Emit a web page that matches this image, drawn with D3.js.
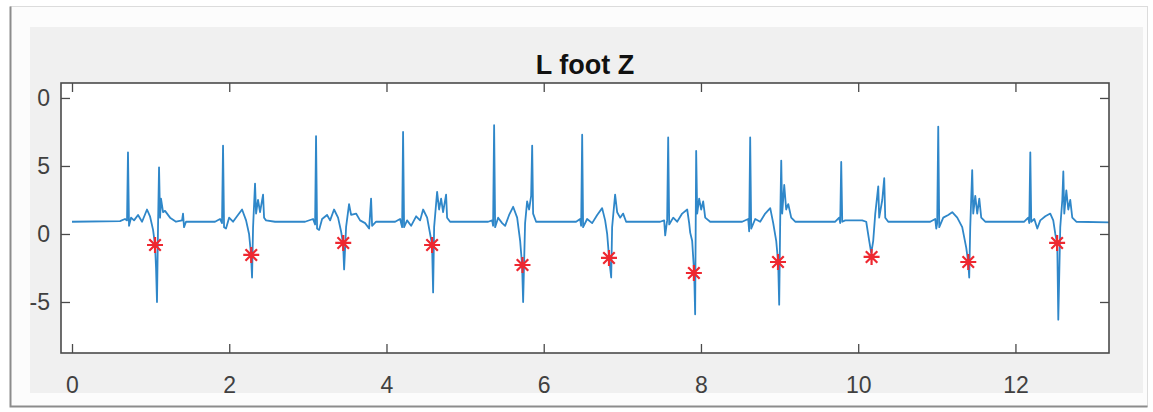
<!DOCTYPE html>
<html>
<head>
<meta charset="utf-8">
<script src="https://cdn.jsdelivr.net/npm/d3@7"></script>
<style>
  body { margin: 0; background: #fff; }
  svg { display: block; font-family: "Liberation Sans", Arial, sans-serif; }
</style>
</head>
<body>
<svg width="1153" height="412"></svg>
<script>
var titleText = 'L foot Z';
var xTicks = [0, 2, 4, 6, 8, 10, 12];
var xTickLabels = ['0', '2', '4', '6', '8', '10', '12'];
var yTicks = [-5, 0, 5, 10];
// the "1" of the top label is cut off in the source picture
var yTickLabels = ['-5', '0', '5', '0'];

// [time (s), Z]
var signal = [
    [0, 0.9], [0.611, 0.95], [0.674, 1.1], [0.700, 1.0], [0.712, 6.0], [0.725, 0.6], [0.751, 1.2],
    [0.789, 1.0], [0.840, 1.4], [0.891, 0.9], [0.954, 1.8], [0.992, 1.3], [1.031, 0.3], [1.056, -0.8],
    [1.069, -2.5], [1.081, -5.0], [1.094, 0.5], [1.107, 4.9], [1.120, 1.2], [1.132, 2.6], [1.158, 1.6],
    [1.183, 1.7], [1.247, 1.2], [1.323, 0.9], [1.400, 1.0], [1.412, 1.5], [1.425, 0.5], [1.450, 0.9],
    [1.629, 0.9],
    [1.819, 0.9], [1.883, 1.1], [1.908, 0.8], [1.921, 6.5], [1.934, 0.5], [1.959, 0.4], [1.998, 1.2],
    [2.048, 0.9], [2.099, 1.3], [2.163, 1.8], [2.214, 1.0], [2.252, 0.0], [2.277, -1.5], [2.290, -3.2],
    [2.303, 0.5], [2.328, 3.7], [2.341, 1.5], [2.366, 2.5], [2.392, 1.6], [2.430, 2.9], [2.443, 1.2],
    [2.468, 1.0], [2.583, 0.9],
    [2.964, 0.9], [3.066, 1.1], [3.092, 0.7], [3.104, 7.2], [3.117, 0.4], [3.143, 0.3], [3.181, 1.1],
    [3.244, 1.4], [3.283, 1.0], [3.333, 1.8], [3.384, 1.2], [3.422, 0.2], [3.448, -0.7], [3.461, -2.6],
    [3.486, 0.5], [3.524, 2.2], [3.550, 1.4], [3.613, 1.5], [3.664, 1.0], [3.728, 0.8], [3.779, 0.4],
    [3.804, 2.6], [3.817, 0.6], [3.868, 0.9],
    [4.110, 0.9], [4.173, 1.1], [4.199, 0.5], [4.211, 7.5], [4.224, 0.5], [4.262, 1.0], [4.313, 0.6],
    [4.377, 1.3], [4.428, 1.0], [4.466, 1.8], [4.517, 1.2], [4.555, 0.0], [4.580, -0.8], [4.593, -4.3],
    [4.606, 0.5], [4.644, 3.1], [4.669, 1.8], [4.695, 2.6], [4.720, 1.6], [4.758, 2.9], [4.771, 1.2],
    [4.809, 0.9],
    [5.293, 0.9], [5.344, 1.0], [5.356, 0.6], [5.369, 8.0], [5.382, 0.5], [5.420, 1.2], [5.471, 0.8],
    [5.509, 0.6], [5.560, 1.4], [5.611, 2.0], [5.662, 1.2], [5.700, -0.5], [5.725, -2.3], [5.738, -5.0],
    [5.763, 0.8], [5.789, 2.4], [5.814, 1.8], [5.840, 2.8], [5.853, 6.5], [5.865, 1.5], [5.903, 0.9],
    [6.412, 0.9], [6.463, 1.1], [6.476, 0.6], [6.489, 7.3], [6.501, 0.5], [6.552, 1.1], [6.616, 0.8],
    [6.680, 1.4], [6.743, 1.9], [6.781, 1.0], [6.807, 0.0], [6.832, -1.8], [6.858, -3.2], [6.870, 0.5],
    [6.908, 2.9], [6.934, 1.6], [6.972, 1.2], [7.010, 1.5], [7.048, 0.9], [7.125, 0.9],
    [7.481, 0.9], [7.532, 1.0], [7.545, -0.1], [7.570, 1.0], [7.583, 7.1], [7.596, 0.7], [7.647, 1.2],
    [7.697, 0.9], [7.761, 1.5], [7.825, 1.8], [7.850, 0.8], [7.863, 0.1], [7.888, -0.5], [7.914, -2.9],
    [7.926, -5.9], [7.939, 6.1], [7.952, 1.5], [7.977, 2.6], [8.003, 1.8], [8.028, 2.4], [8.054, 1.2],
    [8.117, 0.9],
    [8.524, 0.9], [8.601, 1.1], [8.613, 0.2], [8.626, 7.1], [8.639, 0.4], [8.690, 1.1], [8.753, 0.9],
    [8.817, 1.5], [8.881, 1.9], [8.919, 0.8], [8.957, -0.5], [8.982, -2.1], [8.995, -5.2], [9.008, 1.0],
    [9.021, 5.4], [9.033, 1.5], [9.059, 3.6], [9.084, 1.8], [9.110, 2.2], [9.148, 1.2], [9.199, 0.9],
    [9.708, 0.9], [9.758, 1.2], [9.771, 0.8], [9.784, 5.3], [9.797, 0.9], [9.835, 1.0], [10.051, 1.0],
    [10.102, 0.9], [10.140, -0.5], [10.166, -1.4], [10.191, -0.5], [10.217, 1.5], [10.242, 2.8],
    [10.255, 3.5], [10.267, 1.2], [10.306, 2.5], [10.331, 4.1], [10.344, 1.2], [10.382, 0.9],
    [10.916, 0.9], [10.980, 1.1], [10.993, 0.4], [11.005, 0.8], [11.018, 7.9], [11.031, 0.5],
    [11.082, 1.2], [11.145, 1.4], [11.196, 1.6], [11.260, 1.2], [11.323, 0.5], [11.374, -1.0],
    [11.400, -2.1], [11.412, -3.2], [11.425, 0.5], [11.450, 4.7], [11.463, 1.5], [11.489, 2.8],
    [11.514, 1.5], [11.540, 2.6], [11.565, 1.2], [11.616, 0.9],
    [12.112, 0.9], [12.163, 1.2], [12.176, 0.8], [12.189, 6.0], [12.201, 0.9], [12.240, 1.1],
    [12.278, 0.4], [12.316, 1.0], [12.380, 1.3], [12.443, 1.5], [12.481, 1.0], [12.507, 0.0],
    [12.532, -0.7], [12.545, -6.3], [12.570, 0.5], [12.596, 2.5], [12.609, 4.6], [12.621, 1.5],
    [12.647, 3.2], [12.672, 1.8], [12.697, 2.5], [12.723, 1.2], [12.774, 0.9], [13.19, 0.85]
];

// red * markers
var markTime = [1.056, 2.28, 3.45, 4.58, 5.73, 6.83, 7.91, 8.98, 10.17, 11.40, 12.53];
var markZ = [-0.81, -1.54, -0.66, -0.81, -2.28, -1.76, -2.87, -2.06, -1.69, -2.06, -0.66];

var svg = d3.select('svg');

// figure frame
svg.append('rect')
    .attr('x', 10.5).attr('y', 6.5)
    .attr('width', 1137).attr('height', 400)
    .attr('fill', '#fcfcfc')
    .attr('stroke', '#dcdcdc');
svg.append('path')
    .attr('d', 'M10.5,6.5 V406.5 H1147.5')
    .attr('fill', 'none')
    .attr('stroke', '#8c8c8c')
    .attr('stroke-width', 2);
svg.append('rect')
    .attr('x', 30).attr('y', 27)
    .attr('width', 1113).attr('height', 366)
    .attr('fill', '#f0f0f0');

var plotLeft = 61, plotRight = 1109, plotTop = 83, plotBottom = 353;

var x = d3.scaleLinear().domain([-0.14, 13.19]).range([plotLeft, plotRight]);
var y = d3.scaleLinear().domain([-8.75, 11.1]).range([plotBottom, plotTop]);

svg.append('rect')
    .attr('x', plotLeft).attr('y', plotTop)
    .attr('width', plotRight - plotLeft).attr('height', plotBottom - plotTop)
    .attr('fill', '#fff');

svg.append('clipPath')
    .attr('id', 'plot')
    .append('rect')
    .attr('x', plotLeft).attr('y', plotTop)
    .attr('width', plotRight - plotLeft).attr('height', plotBottom - plotTop);

var lineFunction = d3.line()
    .x(function(d){ return x(d[0]); })
    .y(function(d){ return y(d[1]); });

svg.append('path')
    .datum(signal)
    .attr('clip-path', 'url(#plot)')
    .attr('d', lineFunction)
    .attr('fill', 'none')
    .attr('stroke', '#2f87c9')
    .attr('stroke-width', 1.8)
    .attr('stroke-linejoin', 'round');

var r = 8, dd = r * 0.72;
var star = 'M' + (-r) + ',0L' + r + ',0M0,' + (-r) + 'L0,' + r +
    'M' + (-dd) + ',' + (-dd) + 'L' + dd + ',' + dd +
    'M' + (-dd) + ',' + dd + 'L' + dd + ',' + (-dd);

svg.append('g')
    .selectAll('path')
    .data(markTime)
    .enter()
    .append('path')
    .attr('transform', function(d, i){
        return 'translate(' + x(d) + ',' + y(markZ[i]) + ')';
    })
    .attr('d', star)
    .attr('fill', 'none')
    .attr('stroke', '#ee2830')
    .attr('stroke-width', 2.2);

// axes, MATLAB style: box with inward ticks on all four sides
var axisColor = '#4a4a4a';

function styleAxis(g){
    g.select('.domain').remove();
    g.selectAll('line').attr('stroke', axisColor).attr('stroke-width', 1.3);
    g.selectAll('text')
        .attr('fill', '#404040')
        .style('font-size', '23px')
        .style('font-family', '"Liberation Sans", Arial, sans-serif');
}

svg.append('g')
    .attr('transform', 'translate(0,' + plotBottom + ')')
    .call(d3.axisBottom(x).tickValues(xTicks)
        .tickFormat(function(d, i){ return xTickLabels[i]; })
        .tickSizeInner(-9).tickSizeOuter(0).tickPadding(24))
    .call(styleAxis);

svg.append('g')
    .attr('transform', 'translate(0,' + plotTop + ')')
    .call(d3.axisTop(x).tickValues(xTicks).tickFormat('')
        .tickSizeInner(-9).tickSizeOuter(0))
    .call(styleAxis);

svg.append('g')
    .attr('transform', 'translate(' + plotLeft + ',0)')
    .call(d3.axisLeft(y).tickValues(yTicks)
        .tickFormat(function(d, i){ return yTickLabels[i]; })
        .tickSizeInner(-9).tickSizeOuter(0).tickPadding(11))
    .call(styleAxis);

svg.append('g')
    .attr('transform', 'translate(' + plotRight + ',0)')
    .call(d3.axisRight(y).tickValues(yTicks).tickFormat('')
        .tickSizeInner(-9).tickSizeOuter(0))
    .call(styleAxis);

svg.append('rect')
    .attr('x', plotLeft).attr('y', plotTop)
    .attr('width', plotRight - plotLeft).attr('height', plotBottom - plotTop)
    .attr('fill', 'none')
    .attr('stroke', axisColor)
    .attr('stroke-width', 1.6);

svg.append('text')
    .attr('x', (plotLeft + plotRight) / 2)
    .attr('y', 74)
    .attr('text-anchor', 'middle')
    .attr('font-weight', 'bold')
    .attr('font-size', 27)
    .attr('fill', '#111')
    .text(titleText);
</script>
</body>
</html>
